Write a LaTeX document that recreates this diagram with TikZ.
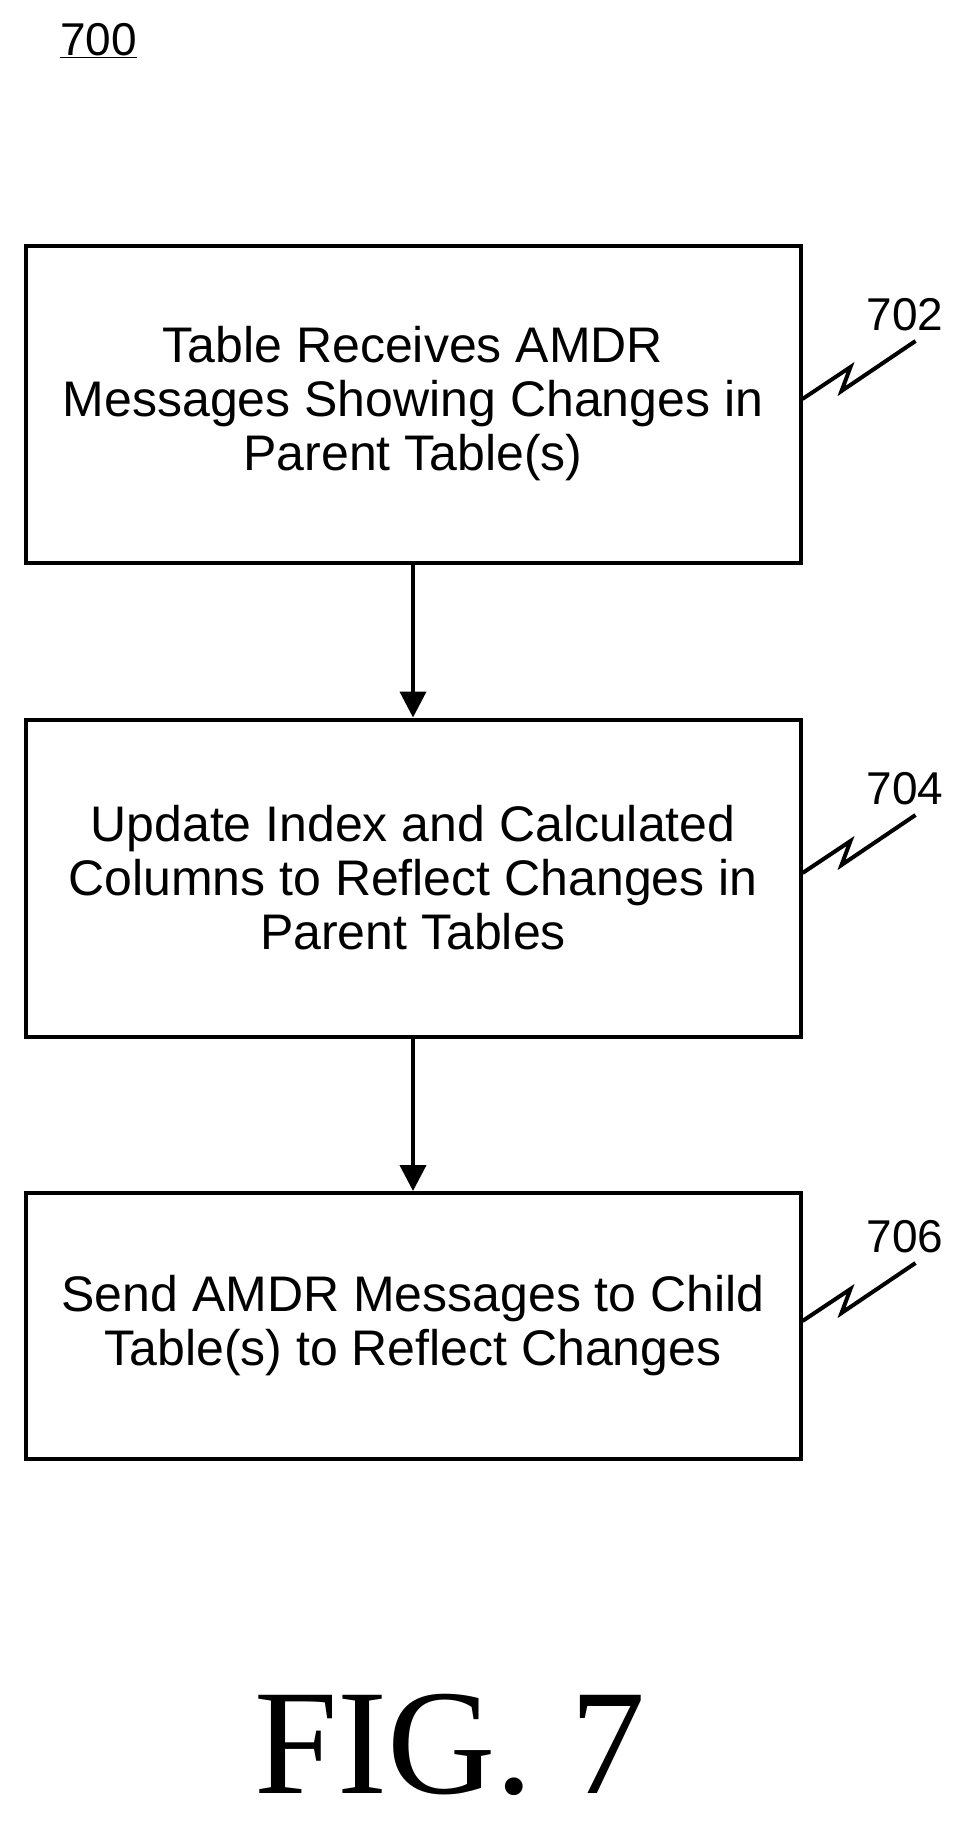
\documentclass[tikz,border=0pt]{standalone}
\usepackage{fontspec}
\setmainfont{Liberation Sans}
\newfontfamily\figfont{Liberation Serif}
\usetikzlibrary{positioning,arrows.meta}
\begin{document}
\begin{tikzpicture}[x=1pt,y=1pt,yscale=-1,
  stepbox/.style={draw,line width=4pt,minimum width=775pt,minimum height=317pt,align=center,font=\fontsize{50}{54}\selectfont,inner sep=0pt},
  flow/.style={line width=4pt,-{Triangle[length=26pt,width=26pt]}},
  squig/.style={line width=4pt},
  ref/.style={font=\fontsize{46}{46}\selectfont,inner sep=0pt}]
\useasboundingbox (0,0) rectangle (971,1823);

% label of the figure
\node[ref,anchor=west] (fignum) at (60,41) {\underline{700}};

% steps
\node[stepbox] (recv) at (413,404) {Table Receives AMDR\\Messages Showing Changes in\\Parent Table(s)};
\node[stepbox] (update) at (413,878) {Update Index and Calculated\\Columns to Reflect Changes in\\Parent Tables};
\node[stepbox,minimum height=266pt] (send) at (413,1326) {Send AMDR Messages to Child\\Table(s) to Reflect Changes};

\draw[flow] (recv) -- (update);
\draw[flow] (update) -- (send);

% reference numerals
\foreach \bx/\num in {recv/702,update/704,send/706}{
  \coordinate (s\num) at ([yshift=-5pt]\bx.east);
  \draw[squig] (s\num) -- ++(48,-32) -- ++(-9,24) -- ++(74,-50);
  \node[ref,anchor=south west] (n\num) at ([xshift=64pt,yshift=-68pt]s\num) {\num};
}

\node[font=\figfont\fontsize{150}{150}\selectfont,inner sep=0pt] (fig) at (450,1745) {FIG. 7};
\end{tikzpicture}
\end{document}
